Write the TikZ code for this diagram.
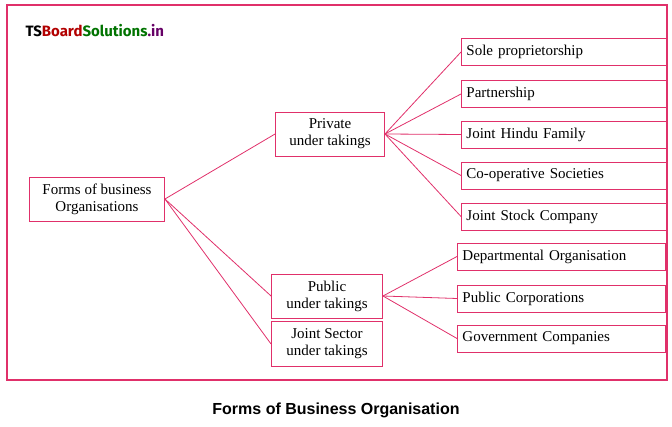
\documentclass[tikz,border=0pt]{standalone}
\usepackage{fontspec}
\setmainfont{Liberation Serif}
\newfontfamily\logofont{Fira Sans}
\newfontfamily\capfont{Liberation Sans}
\definecolor{pk}{HTML}{E0306A}
\begin{document}
\begin{tikzpicture}[x=1pt,y=-1pt,
  bx/.style={draw=pk,line width=0.9pt,inner sep=0pt,font=\fontsize{15}{17}\selectfont,align=center},
  ln/.style={draw=pk,line width=0.8pt}]
\useasboundingbox (0,0) rectangle (672,427);
\draw[pk,line width=1.2pt] (7,5) rectangle (667,380);
\node[anchor=west,font=\logofont\bfseries\fontsize{15}{17}\selectfont] (logo) at (22,31) {TS\textcolor{red!70!black}{Board}\textcolor{green!45!black}{Solutions}\textcolor{violet!80!black}{.in}};
\node[bx,minimum width=135pt,minimum height=44pt] (root) at (97,199) {Forms of business\\Organisations};
\node[bx,minimum width=109pt,minimum height=44pt] (pri) at (330,134) {Private\\under takings};
\node[bx,minimum width=111pt,minimum height=44pt] (pub) at (327,296) {Public\\under takings};
\node[bx,minimum width=111pt,minimum height=45pt] (js) at (327,344) {Joint Sector\\under takings};
\tikzset{rb/.style={bx,minimum height=27pt,text width=196pt,align=left,inner xsep=5pt,anchor=west}}
\node[rb] (a) at (461,52) {Sole proprietorship};
\node[rb] (b) at (461,94) {Partnership};
\node[rb] (c) at (461,134.5) {Joint Hindu Family};
\node[rb] (d) at (461,175.5) {Co-operative Societies};
\node[rb] (e) at (461,216.5) {Joint Stock Company};
\node[rb,text width=198pt] (f) at (457,256.5) {Departmental Organisation};
\node[rb,text width=198pt] (g) at (457,298.5) {Public Corporations};
\node[rb,text width=198pt] (h) at (457,338.5) {Government Companies};
\foreach \t in {pri,pub,js} \draw[ln] (root.east) -- (\t.west);
\foreach \t in {a,b,c,d,e} \draw[ln] (pri.east) -- (\t.west);
\foreach \t in {f,g,h} \draw[ln] (pub.east) -- (\t.west);
\node[font=\capfont\bfseries\fontsize{16}{18}\selectfont] (cap) at (336,410) {Forms of Business Organisation};
\end{tikzpicture}
\end{document}
